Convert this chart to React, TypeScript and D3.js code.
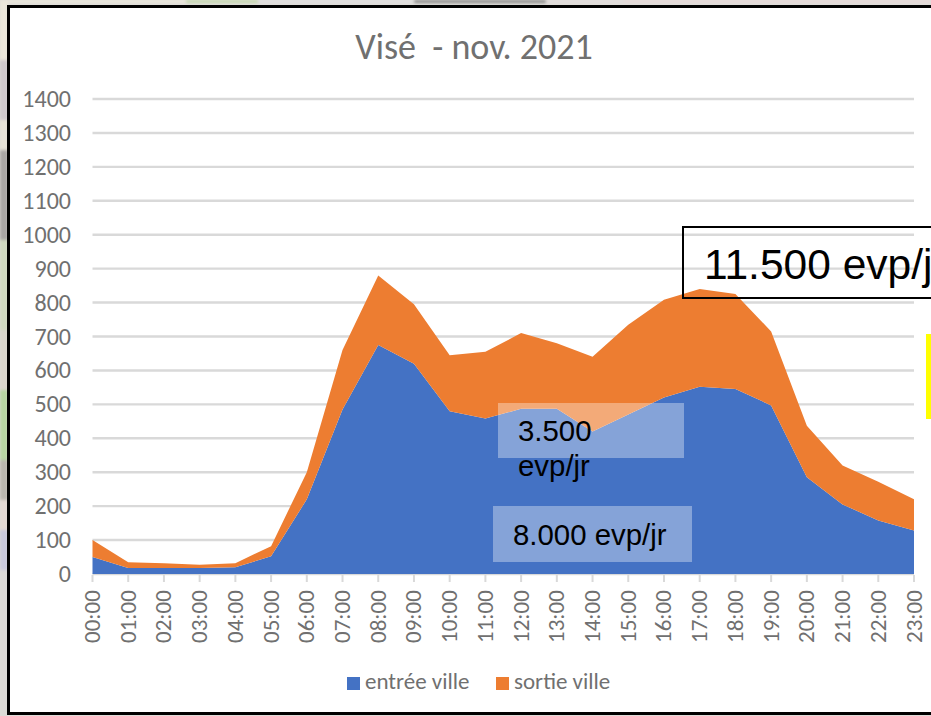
import React from "react";
import * as d3 from "d3";

const hours = ["00:00","01:00","02:00","03:00","04:00","05:00","06:00","07:00","08:00","09:00","10:00","11:00","12:00","13:00","14:00","15:00","16:00","17:00","18:00","19:00","20:00","21:00","22:00","23:00"];
const entreeVille = [50,18,18,18,20,52,220,485,675,620,480,458,487,487,420,470,520,552,545,497,285,205,158,128];
const sortieVille = [50,17,14,9,12,30,80,175,205,175,165,197,223,193,220,265,288,288,280,218,152,115,114,92];
const yTicks = d3.range(0, 1500, 100);
const legendItems = [
  { label: "entrée ville", color: "#4472C4", x: 347, tx: 365 },
  { label: "sortie ville", color: "#ED7D31", x: 496, tx: 514 },
];
const mapStripLeft = [
  [0, 60, "#ece8dc"], [60, 60, "#cfc9cc"], [120, 30, "#e6e2d8"], [150, 90, "#a9a6a4"], [240, 90, "#cfd8c0"],
  [330, 60, "#d9d6cc"], [390, 70, "#b7d6a2"], [460, 40, "#b9b5ae"], [500, 30, "#e2d8d2"], [530, 40, "#c9c9dc"], [570, 146, "#dcdad6"],
] as const;
const mapStripTop = [
  [0, 186, "#ece8dc"], [186, 72, "#c5d8ae"], [258, 156, "#e0dfe0"], [414, 132, "#8b8b8b"], [546, 78, "#e2dcdc"], [624, 307, "#e6d8d8"],
] as const;

const FONT = "Calibri, Carlito, 'Open Sans', 'Noto Sans', sans-serif";
const ARIAL = "'Liberation Sans', Arial, sans-serif";
const TEXT_GREY = "#707070";

export default function App() {
  const x = d3.scalePoint<string>().domain(hours).range([92.5, 914]);
  const y = d3.scaleLinear().domain([0, 1400]).range([574, 99]);
  const stacked = d3
    .stack<number>()
    .keys(["0", "1"])
    .value((i, k) => (k === "0" ? entreeVille[i] : sortieVille[i]))(hours.map((_, i) => i));
  const area = d3
    .area<d3.SeriesPoint<number>>()
    .x((d) => x(hours[d.data])!)
    .y0((d) => y(d[0]))
    .y1((d) => y(d[1]));
  const colors = ["#4472C4", "#ED7D31"];

  return (
    <svg
      width={931}
      height={716}
      viewBox="0 0 931 716"
      style={{ position: "absolute", left: 0, top: 0, display: "block" }}
    >
      <defs>
        <filter id="soft" x="-20%" y="-20%" width="140%" height="140%">
          <feGaussianBlur stdDeviation="1.5" />
        </filter>
      </defs>
      <rect width={931} height={716} fill="#dedcd8" />
      <g filter="url(#soft)">
        {mapStripLeft.map(([yy, h, c], i) => (
          <rect key={i} x={0} y={yy} width={8} height={h} fill={c} />
        ))}
        {mapStripTop.map(([xx, w, c], i) => (
          <rect key={i} x={xx} y={0} width={w} height={3} fill={c} />
        ))}
      </g>
      <rect x={8.5} y={6.5} width={930} height={707} fill="#fff" stroke="#000" strokeWidth={3} />

      <text x={474} y={59} textAnchor="middle" fontFamily={FONT} fontSize={36} fill={TEXT_GREY} style={{ whiteSpace: "pre" }}>
        {"Visé  - nov. 2021"}
      </text>

      {yTicks.map((t) => (
        <g key={t}>
          <line x1={92.5} x2={914} y1={y(t)} y2={y(t)} stroke="#d9d9d9" strokeWidth={2.4} />
          <text x={71} y={y(t) + 8} textAnchor="end" fontFamily={FONT} fontSize={24} fill={TEXT_GREY}>
            {t}
          </text>
        </g>
      ))}

      {stacked.map((s, i) => (
        <path key={i} d={area(s)!} fill={colors[i]} />
      ))}

      {hours.map((h) => (
        <g key={h}>
          <line x1={x(h)} x2={x(h)} y1={575} y2={582} stroke="#d9d9d9" strokeWidth={2} />
          <text
            transform={`translate(${x(h)! + 7.5},643) rotate(-90)`}
            fontFamily={FONT}
            fontSize={23}
            fill={TEXT_GREY}
          >
            {h}
          </text>
        </g>
      ))}

      {legendItems.map((l) => (
        <g key={l.label}>
          <rect x={l.x} y={677} width={13} height={13} fill={l.color} />
          <text x={l.tx} y={689} fontFamily={FONT} fontSize={23} fill={TEXT_GREY}>
            {l.label}
          </text>
        </g>
      ))}

      <rect x={498} y={403} width={186} height={55} fill="#fff" fillOpacity={0.35} />
      <text x={518} y={441} fontFamily={ARIAL} fontSize={29.4} fill="#000">3.500</text>
      <text x={518} y={476} fontFamily={ARIAL} fontSize={29.4} fill="#000">evp/jr</text>

      <rect x={493} y={506} width={199} height={56} fill="#fff" fillOpacity={0.35} />
      <text x={513} y={545} fontFamily={ARIAL} fontSize={29.4} fill="#000">8.000 evp/jr</text>

      <rect x={683} y={227} width={300} height={71} fill="none" stroke="#000" strokeWidth={2} />
      <text x={704} y={279} fontFamily={ARIAL} fontSize={42.5} fill="#000">11.500 evp/j</text>

      <rect x={926} y={334} width={5} height={85} fill="#ffff00" />
    </svg>
  );
}
